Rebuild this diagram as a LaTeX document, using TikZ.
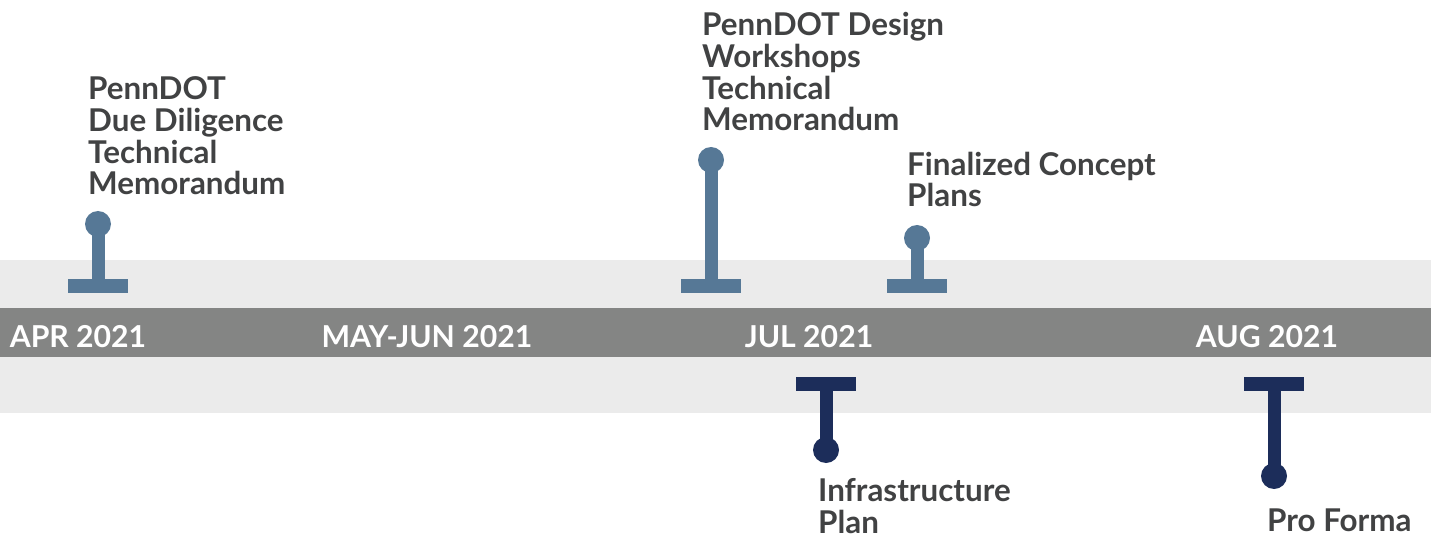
\documentclass[tikz,border=0pt]{standalone}
\usepackage{fontspec}
\setmainfont{Lato}
\newfontfamily\latoblack{Lato Black}
\definecolor{bandlight}{HTML}{EBEBEB}
\definecolor{banddark}{HTML}{848584}
\definecolor{steel}{HTML}{567896}
\definecolor{navy}{HTML}{1C2D5A}
\definecolor{labelgray}{HTML}{414243}
\tikzset{
  dotmark/.style={circle, inner sep=0pt, minimum size=26bp},
  barmark/.style={rectangle, inner sep=0pt, minimum width=60bp, minimum height=14bp},
  stemline/.style={line width=13bp},
  upmark/.style={fill=steel},
  downmark/.style={fill=navy},
  month/.style={text=white, font=\latoblack\bfseries\fontsize{30.3}{32}\selectfont, anchor=base, inner sep=0pt},
  milestone/.style={text=labelgray, font=\bfseries\fontsize{31.5}{32}\selectfont, align=left, anchor=base west, inner sep=0pt}
}
\begin{document}
\begin{tikzpicture}[x=1bp,y=-1bp]
\useasboundingbox (0,0) rectangle (1431,535);
% bands
\fill[bandlight] (0,260) rectangle (1431,413);
\fill[banddark] (0,308) rectangle (1431,357);
% month labels
\node[month] (apr) at (78,347) {APR 2021};
\node[month] (mayjun) at (427,347) {MAY-JUN 2021};
\node[month] (jul) at (809,347) {JUL 2021};
\node[month] (aug) at (1267,347) {AUG 2021};
% marker 1
\node[dotmark, upmark] (d1) at (98,224) {};
\node[barmark, upmark] (b1) at (98,286) {};
\draw[stemline, steel] (d1.center) -- (b1.center);
% marker 2
\node[dotmark, upmark] (d2) at (711,160) {};
\node[barmark, upmark] (b2) at (711,286) {};
\draw[stemline, steel] (d2.center) -- (b2.center);
% marker 3
\node[dotmark, upmark] (d3) at (917,238) {};
\node[barmark, upmark] (b3) at (917,286) {};
\draw[stemline, steel] (d3.center) -- (b3.center);
% marker 4
\node[barmark, downmark] (b4) at (826,384) {};
\node[dotmark, downmark] (d4) at (826,450) {};
\draw[stemline, navy] (b4.center) -- (d4.center);
% marker 5
\node[barmark, downmark] (b5) at (1274,384) {};
\node[dotmark, downmark] (d5) at (1274,476) {};
\draw[stemline, navy] (b5.center) -- (d5.center);
% milestone labels (anchored at the baseline of the last line)
\node[milestone] (t1) at (88,195) {PennDOT\\Due Diligence\\Technical\\Memorandum};
\node[milestone] (t2) at (702,131) {PennDOT Design\\Workshops\\Technical\\Memorandum};
\node[milestone] (t3) at (907,207) {Finalized Concept\\Plans};
\node[milestone] (t4) at (818,533) {Infrastructure\\Plan};
\node[milestone] (t5) at (1267,531) {Pro Forma};
\end{tikzpicture}
\end{document}
